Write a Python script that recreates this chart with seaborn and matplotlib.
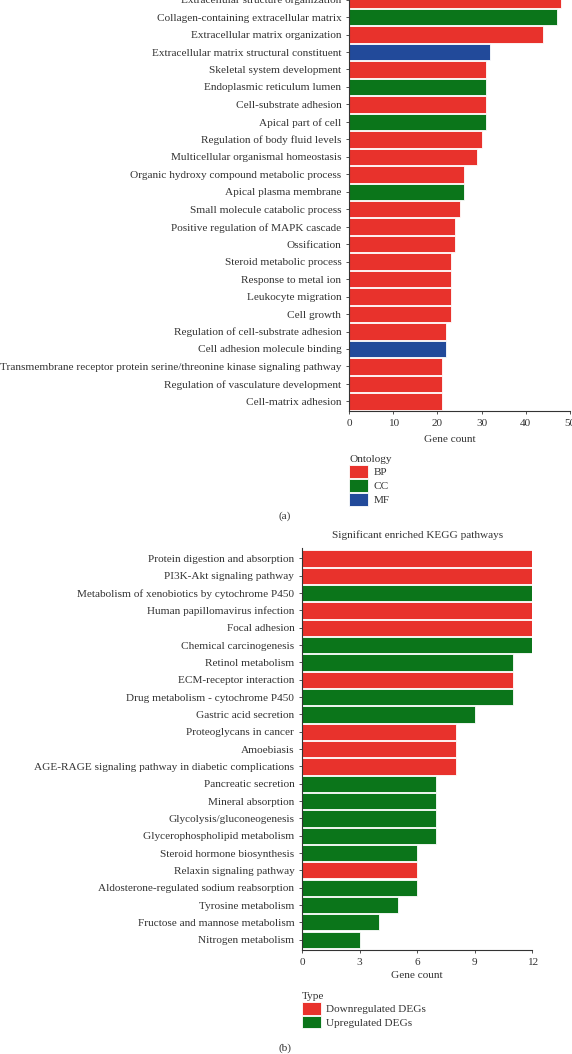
import pandas as pd
import matplotlib.pyplot as plt
import seaborn as sns

# GO enrichment (panel a)
go_terms = [
    "Extracellular structure organization",
    "Collagen-containing extracellular matrix",
    "Extracellular matrix organization",
    "Extracellular matrix structural constituent",
    "Skeletal system development",
    "Endoplasmic reticulum lumen",
    "Cell-substrate adhesion",
    "Apical part of cell",
    "Regulation of body fluid levels",
    "Multicellular organismal homeostasis",
    "Organic hydroxy compound metabolic process",
    "Apical plasma membrane",
    "Small molecule catabolic process",
    "Positive regulation of MAPK cascade",
    "Ossification",
    "Steroid metabolic process",
    "Response to metal ion",
    "Leukocyte migration",
    "Cell growth",
    "Regulation of cell-substrate adhesion",
    "Cell adhesion molecule binding",
    "Transmembrane receptor protein serine/threonine kinase signaling pathway",
    "Regulation of vasculature development",
    "Cell-matrix adhesion",
]
go_counts = [48, 47, 44, 32, 31, 31, 31, 31, 30, 29, 26, 26, 25, 24, 24,
             23, 23, 23, 23, 22, 22, 21, 21, 21]
go_ontology = ["BP", "CC", "BP", "MF", "BP", "CC", "BP", "CC", "BP", "BP",
               "BP", "CC", "BP", "BP", "BP", "BP", "BP", "BP", "BP", "BP",
               "MF", "BP", "BP", "BP"]

# KEGG enrichment (panel b)
kegg_terms = [
    "Protein digestion and absorption",
    "PI3K-Akt signaling pathway",
    "Metabolism of xenobiotics by cytochrome P450",
    "Human papillomavirus infection",
    "Focal adhesion",
    "Chemical carcinogenesis",
    "Retinol metabolism",
    "ECM-receptor interaction",
    "Drug metabolism - cytochrome P450",
    "Gastric acid secretion",
    "Proteoglycans in cancer",
    "Amoebiasis",
    "AGE-RAGE signaling pathway in diabetic complications",
    "Pancreatic secretion",
    "Mineral absorption",
    "Glycolysis/gluconeogenesis",
    "Glycerophospholipid metabolism",
    "Steroid hormone biosynthesis",
    "Relaxin signaling pathway",
    "Aldosterone-regulated sodium reabsorption",
    "Tyrosine metabolism",
    "Fructose and mannose metabolism",
    "Nitrogen metabolism",
]
kegg_counts = [12, 12, 12, 12, 12, 12, 11, 11, 11, 9, 8, 8, 8, 7, 7, 7, 7,
               6, 6, 6, 5, 4, 3]
D, U = "Downregulated DEGs", "Upregulated DEGs"
kegg_type = [D, D, U, D, D, U, U, D, U, U, D, D, D, U, U, U, U, U, D, U, U, U, U]

RED, GREEN, BLUE = "#e8322c", "#0b751a", "#224a9a"

sns.set_style("ticks")
plt.rcParams["font.family"] = ["Liberation Serif", "DejaVu Serif"]
plt.rcParams["text.color"] = "#333333"
plt.rcParams["axes.labelcolor"] = "#333333"
plt.rcParams["xtick.color"] = "#333333"
plt.rcParams["ytick.color"] = "#333333"
FS = 8.1

fig = plt.figure(figsize=(5.72, 10.54), dpi=100)
H = 1054.0
W = 572.0

df_go = pd.DataFrame({"term": go_terms, "count": go_counts, "Ontology": go_ontology})
df_kegg = pd.DataFrame({"term": kegg_terms, "count": kegg_counts, "Type": kegg_type})


def style_axis(ax, xmax, step):
    sns.despine(ax=ax)
    ax.set_xlim(0, xmax)
    ax.set_xticks(range(0, xmax + 1, step))
    ax.set_ylabel("")
    ax.set_xlabel("Gene count", fontsize=FS, labelpad=3)
    ax.tick_params(axis="both", labelsize=FS, length=2.5, width=0.6, pad=3)
    for s in ("left", "bottom"):
        ax.spines[s].set_linewidth(0.8)
        ax.spines[s].set_color("#333333")


# Panel a
ax1 = fig.add_axes([349 / W, 1 - 411 / H, 221 / W, 421 / H])
sns.barplot(data=df_go, x="count", y="term", hue="Ontology", dodge=False,
            palette={"BP": RED, "CC": GREEN, "MF": BLUE}, width=0.94,
            edgecolor="white", linewidth=0.6, saturation=1, ax=ax1)
style_axis(ax1, 50, 10)
ax1.set_ylim(23.55, -0.55)
ax1.xaxis.set_label_coords(0.455, -0.058)
sns.move_legend(ax1, loc="upper left", bbox_to_anchor=(349 / W, 1 - 455 / H),
                bbox_transform=fig.transFigure, frameon=False, borderpad=0,
                borderaxespad=0, title="Ontology", fontsize=FS, title_fontsize=FS,
                handlelength=1.65, handleheight=1.35, labelspacing=0.12,
                handletextpad=0.5)
ax1.get_legend()._legend_box.align = "left"

# Panel b
ax2 = fig.add_axes([302 / W, 1 - 950.4 / H, 230.4 / W, 402.3 / H])
sns.barplot(data=df_kegg, x="count", y="term", hue="Type", dodge=False,
            palette={D: RED, U: GREEN}, width=0.94,
            edgecolor="white", linewidth=0.6, saturation=1, ax=ax2)
style_axis(ax2, 12, 3)
ax2.set_ylim(22.62, -0.6)
ax2.set_title("Significant enriched KEGG pathways", fontsize=FS, pad=7)
sns.move_legend(ax2, loc="upper left", bbox_to_anchor=(302 / W, 1 - 992 / H),
                bbox_transform=fig.transFigure, frameon=False, borderpad=0,
                borderaxespad=0, title="Type", fontsize=FS, title_fontsize=FS,
                handlelength=1.65, handleheight=1.3, labelspacing=0.12,
                handletextpad=0.5)
ax2.get_legend()._legend_box.align = "left"

fig.text(285 / W, 1 - 516 / H, "(a)", fontsize=FS, ha="center", va="center")
fig.text(285 / W, 1 - 1048 / H, "(b)", fontsize=FS, ha="center", va="center")

plt.savefig("out.png", dpi=100)
plt.close()
